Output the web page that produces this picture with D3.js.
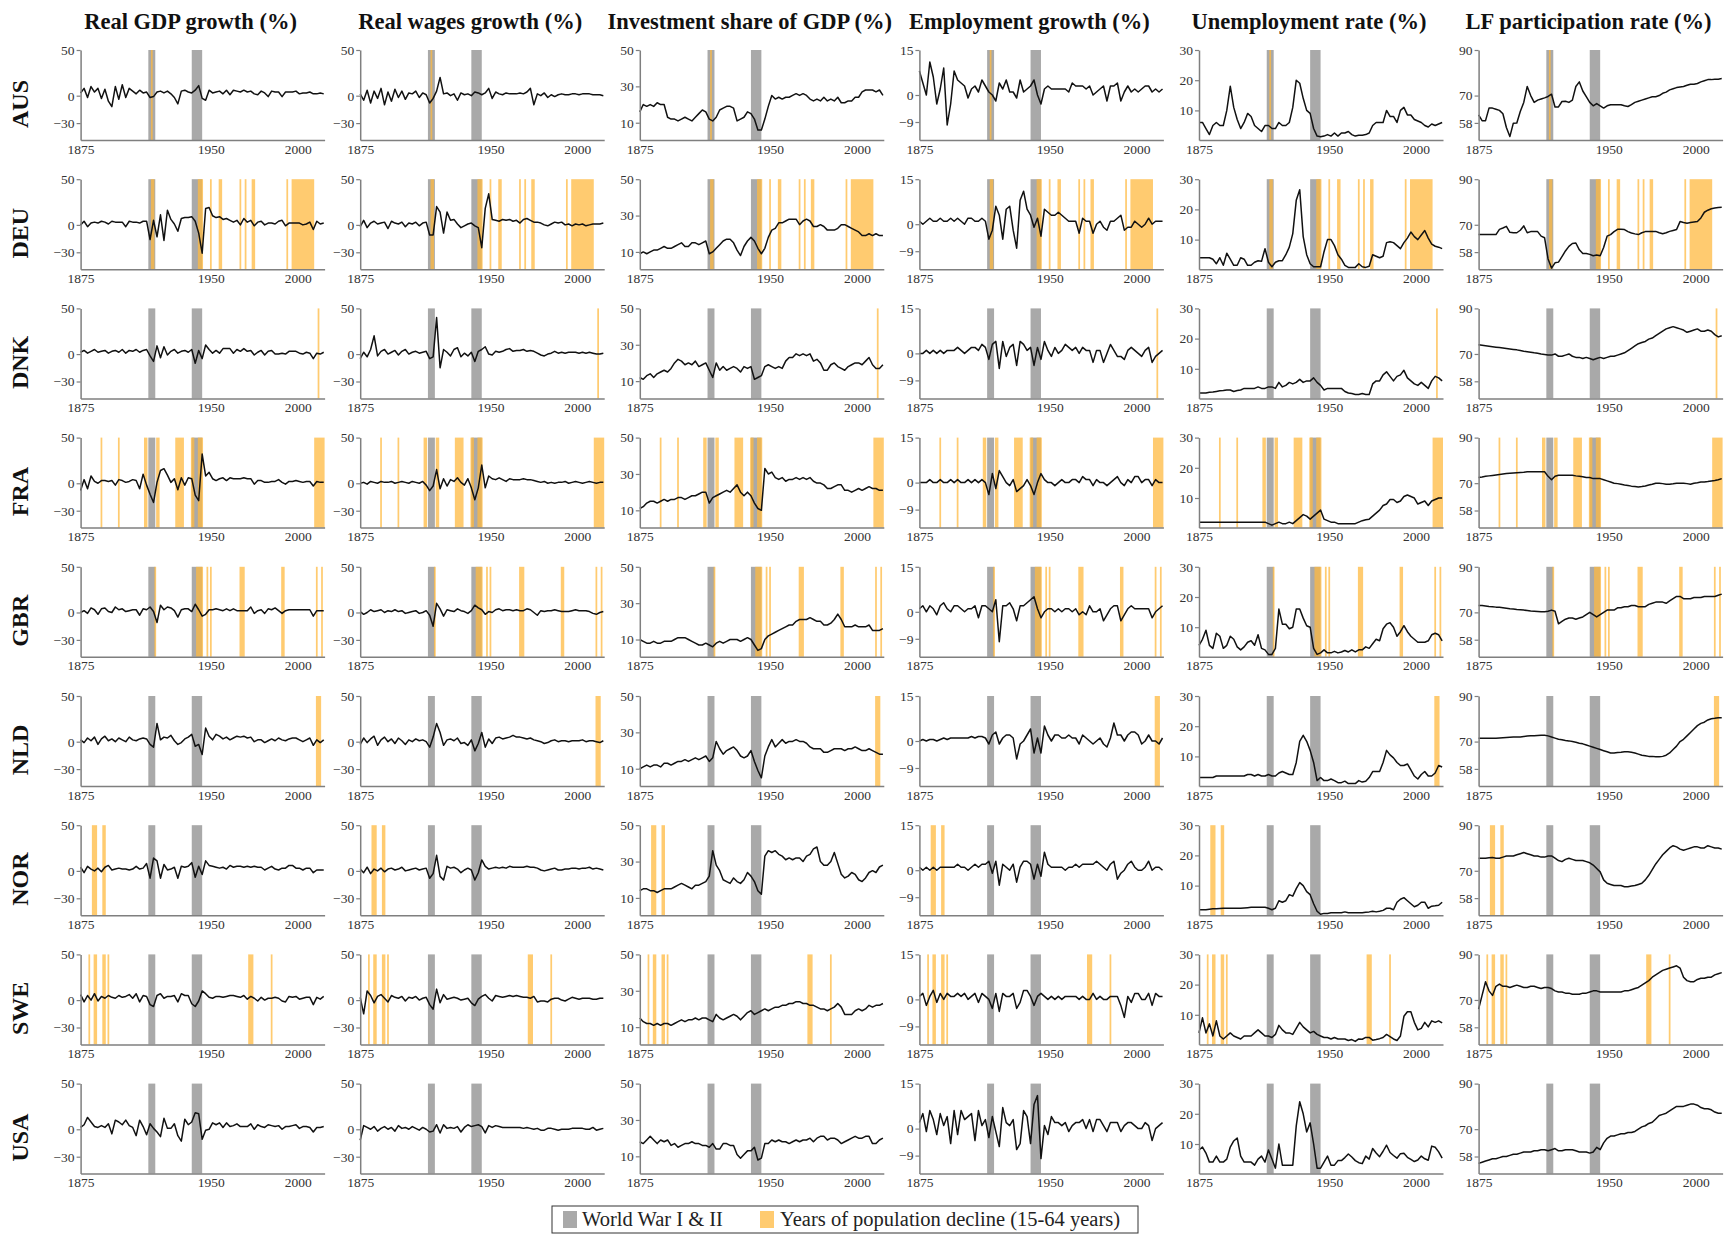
<!DOCTYPE html>
<html><head><meta charset="utf-8">
<script src="https://cdn.jsdelivr.net/npm/d3@7"></script>
<style>
body{margin:0;background:#fff}
svg{display:block}
text{font-family:"Liberation Serif","Times New Roman",serif}
</style>
</head><body>
<svg id="chart" width="1732" height="1234"></svg>
<script>
// ---------------- DATA ----------------
const countries = ["AUS","DEU","DNK","FRA","GBR","NLD","NOR","SWE","USA"];
const variables = ["Real GDP growth (%)","Real wages growth (%)","Investment share of GDP (%)","Employment growth (%)","Unemployment rate (%)","LF participation rate (%)"];
const yearStart = 1875, yearStep = 2;   // values below are given every 2 years, 1875..2015
const xTickValues = [1875, 1950, 2000];
const yTickValues = [[50,0,-30],[50,0,-30],[50,30,10],[15,0,-9],[30,20,10],[90,70,58]];
const warPeriods = [[1914,1918],[1939,1945]];

// Years of population decline (15-64 years)
const decline_AUS = [1916];
const decline_DEU = [1916,1917,1943,1944,1945,1950,1955,1956,1967,1970,1974,1975,1994,1997,1998,1999,2000,2001,2002,2003,2004,2005,2006,2007,2008,2009];
const decline_DNK = [2012];
const decline_FRA = [1887,1897,1912,1913,1919,1920,1930,1931,1932,1933,1934,1939,1940,1943,1944,1945,2010,2011,2012,2013,2014,2015];
const decline_GBR = [1918,1942,1943,1944,1945,1948,1950,1967,1968,1969,1991,1992,2011,2014];
const decline_NLD = [2011,2012,2013];
const decline_NOR = [1882,1883,1884,1888,1889];
const decline_SWE = [1880,1883,1884,1888,1889,1891,1972,1973,1974,1985];
const decline_USA = [];

// AUS
const gdp_AUS = [3,8,-2,10,4,8,-3,7,-6,-12, 10,-4,12,-2,8,5,2,6,3,4, -2,-1,4,5,3,5,2,-2,-9,5, 6,4,3,6,11,-3,-5,6,3,4, 5,2,6,1,6,5,4,6,4,5, 2,1,5,3,-1,5,4,4,-1,4, 4,4,5,2,3,3,4,2,2,3,2];
const wage_AUS = [2,-5,6,-8,5,-3,8,-10,4,-6, 7,-2,5,-4,3,2,5,-2,3,1, -8,-3,5,20,2,3,0,2,-5,3, 1,2,0,4,3,1,3,8,-3,4, 2,1,3,2,2,2,3,2,4,8, -10,2,0,3,-2,1,-1,1,2,1, 1,2,2,1,2,2,2,1,1,1,0];
const inv_AUS = [16,20,19,20,19,21,20,20,13,12, 12,11,12,13,12,11,13,15,17,16, 12,11,13,17,18,19,19,18,11,12, 13,16,15,12,6,6,12,19,25,23, 24,23,24,24,25,26,25,26,25,23, 22,23,22,24,22,23,22,24,21,21, 22,22,24,24,27,28,28,28,27,28,25];
const emp_AUS = [8,4,0,11,6,-3,2,9,-10,-3, 8,5,4,3,-1,2,3,1,5,3, 1,0,-2,4,2,5,1,1,-1,5, 1,2,3,5,0,-3,2,3,2,2, 2,2,2,1,4,3,3,3,2,3, 0,1,2,3,-2,3,3,4,-2,1, 3,1,2,1,2,3,3,1,2,1,2];
const unemp_AUS = [6,6,4,2,5,6,5,5,10,18, 11,7,4,6,9,8,5,4,3,5, 5,4,4,6,5,5,6,11,20,19, 14,10,9,4,1.5,1.3,1.5,2,1.5,2.5, 1.5,2.5,2.5,3,2,1.5,1.8,1.8,2,2.5, 5,6,6,6,10,8,8,6,10,11, 8.5,8.5,7,6.5,6,5,4.5,5.5,5,5.5,6];
const lfp_AUS = [61.5,59,59,64.5,64.5,64,63.5,62,56,52, 57.9,58,63,67,74,70,67,68,68.5,69, 69.6,70.6,65,65,67.4,67.5,67,68,74,76, 72,69.5,67,65.5,66.5,65.5,64.5,65.5,66,66, 66,66,65.5,65.2,66,67,67.5,68,68.5,69, 69.5,69.5,70,71,71.5,72.5,73,73.5,73.8,74, 74.5,75,75,75.3,76,76.5,77,77,77.2,77.2,77.5];

// DEU
const gdp_DEU = [0,4,-2,2,3,2,4,3,1,4, 3,3,3,-2,4,3,3,2,4,4, -16,5,-13,11,-17,16,6,1,-7,7, 8,8,9,4,-9,-31,18,19,10,8, 9,6,7,5,3,5,0,7,3,5, -1,3,4,0,2,2,1,4,5,-1, 2,2,2,2,0,1,3,-5,4,1,2];
const wage_DEU = [-2,5,-3,2,4,1,2,3,-4,4, 2,1,3,-2,2,1,3,-1,2,3, -11,-11,20,14,-9,14,5,6,1,-3, -1,1,2,-1,-3,-25,18,34,6,5, 4,6,5,6,4,5,2,6,7,5, 3,3,2,0,-1,1,3,2,3,0, 1,-1,1,0,1,-1,0,1,1,1,2];
const inv_DEU = [9,10,9,10,11,11,12,13,12,12, 13,14,15,13,13,15,15,14,15,16, 9,10,12,14,16,17,17,15,11,8, 13,16,18,16,12,9,12,18,22,23, 26,26,27,28,28,28,25,27,28,27, 24,24,25,24,22,22,22,23,25,25, 24,23,22,21,19,19,20,19,20,19,19];
const emp_DEU = [1,0,1,2,1,1,2,1,1,2, 1,2,1,0,2,2,1,1,2,1, -5,-2,6,3,-5,5,6,-2,-8,8, 11,5,3,-1,2,-4,5,4,3,3, 4,3,2,1,1,1,-3,2,1,1, -3,0,1,-1,-2,1,1,2,3,-2, -1,-1,1,0,-1,0,2,0,1,1,1];
const unemp_DEU = [4,4,4,4,3.5,2,4,1.5,5.5,3.5, 1.5,1.5,4,3.5,1.5,1.5,2.5,3,2.8,7, 2.5,1,2.5,3,3,5,7.5,12,23,26.5, 11,5,2,1,1,1,6,10,10,8, 5,3.5,1.5,0.8,0.8,0.8,2,1,0.8,1.2, 5,4.5,4,4.5,9,9.3,9,8,7,9, 10.5,12.5,11,10,11.5,13,10.5,8.5,7.8,7.5,7];
const lfp_DEU = [65.7,65.7,65.7,65.7,65.7,65.7,68,68.6,69.3,66.7, 66.5,66.5,67.6,69.5,66.5,67,67,67,65,64.3, 55,51,53.3,53.6,56,58.5,60.5,61.8,62,59, 57.4,57.4,57,56.4,56.7,56.4,60,65,65.7,67, 68,68,67.9,67,66.4,66,65.7,66.5,67,67, 67.1,67.1,66.5,66.1,66.5,67.1,67.5,67.9,71.4,71, 70.7,71,71.2,71.4,73,75.5,76.4,77,77.4,77.6,77.7];

// DNK
const gdp_DNK = [2,4,1,3,5,2,3,4,1,3, 4,2,5,1,4,3,5,2,4,5, -2,-8,9,-4,8,-1,3,5,1,3, 4,2,5,-10,4,-5,10,5,1,4, 1,6,6,6,1,5,3,6,3,4, -1,2,4,-1,3,4,0,0,1,0, 3,3,3,1,0,2,1,-5,1,0,2];
const wage_DNK = [-5,2,-3,5,20,-2,3,5,0,2, 4,-1,3,5,0,2,3,1,2,3, -5,-3,40,-15,5,2,-2,5,7,-3, 1,-2,2,-8,3,5,8,0,-1,3, 2,3,5,6,3,4,4,5,3,4, 3,1,-1,-2,0,1,3,1,2,1, 2,2,2,1,2,1,2,1,0,0,1];
const inv_DNK = [12,11,13,14,12,14,15,16,15,17, 20,22,21,19,20,19,21,18,19,20, 16,12,20,16,18,16,17,18,17,15, 18,17,18,11,12,13,18,19,18,17, 18,17,21,23,23,25,24,25,24,25, 21,22,20,16,16,19,20,18,17,16, 18,19,20,20,19,21,23,19,17,17,19];
const emp_DNK = [0,0,1,0,1,0,1,0,1,1, 1,2,1,0,1,2,2,1,3,2, -2,3,4,-5,4,-1,2,3,-4,4, 3,1,2,-4,2,-2,4,1,-1,2, 0,1,3,2,1,2,0,2,1,1, -3,1,1,-3,0,3,1,-1,-1,-2, 1,2,1,0,-1,1,2,-3,-1,0,1];
const unemp_DNK = [2,2,2,2.2,2.3,2.5,2.7,2.8,3,3, 2.5,2.8,3,3.5,3.5,3.5,3.5,4,3.5,3.5, 4,4,3.5,5.5,4,4.5,5.5,5,5.5,6.5, 5.5,6,6,7,5.5,4.5,3,3.5,3.5,3.5, 3.5,3.5,2.5,2,1.8,1.5,1.5,1.8,1.5,1.5, 5,6,6,8,9,7.5,6,7.5,8,9.5, 7,6,5,4.5,5.5,4.5,3.5,6,7.5,7,6];
const lfp_DNK = [74,73.8,73.6,73.4,73.2,73,72.8,72.6,72.4,72.2, 72,71.8,71.5,71.2,71,70.8,70.5,70.3,70,69.8, 69.5,69.5,70,69,69,69.5,70,69,68.5,68.5, 68,68.5,68,67.5,68,68.5,68,68.5,69,69, 69.5,70,70.5,71.5,72.5,73.5,74.5,75,75.5,76.5, 77,78,79,80,81,81.5,82,81.5,81,80.5, 79.5,80,80.5,81,80,80,80.5,80,78.5,77.5,78];

// FRA
const gdp_FRA = [-8,4,-6,8,2,0,3,3,2,3, -2,4,3,1,2,4,3,-6,10,-2, -12,-21,1,14,16,9,1,5,-7,6, -2,6,5,-13,-19,32,8,12,5,3, 5,6,3,6,5,5,5,6,5,5, -1,3,3,1,1,2,2,4,1,-1, 2,2,3,2,1,2,2,-3,2,1,1];
const wage_FRA = [0,1,-1,2,1,0,2,1,1,2, 0,1,2,1,0,2,1,0,2,-2, -8,-3,15,-6,5,-3,4,2,6,1, -2,5,-5,-18,-5,20,-5,8,5,4, 6,4,2,5,4,4,4,5,4,4, 3,2,1,2,0,1,0,1,1,2, 0,1,2,1,0,1,2,1,0,1,1];
const inv_FRA = [11,12,14,15,15,14,15,16,15,16, 16,17,17,16,17,18,18,19,20,20, 14,17,18,19,20,21,20,22,24,20, 18,20,18,14,11,10,33,30,31,28, 27,28,26,27,27,28,27,28,27,28, 26,25,25,24,22,22,23,24,24,21, 21,20,21,22,21,22,23,22,22,21,21];
const emp_FRA = [0,0,0,1,0,0,1,0,0,1, 0,1,0,0,1,0,1,0,1,0, -4,3,-2,4,2,0,-1,1,-3,-2, -1,1,-1,-4,0,3,1,0,0,-1, 0,1,0,0,1,1,0,2,1,1, -1,1,0,0,-1,0,1,2,0,-1, 1,0,2,2,0,1,1,-1,1,0,0];
const unemp_FRA = [2,2,2,2,2,2,2,2,2,2, 2,2,2,2,2,2,2,2,2,2, 1.5,1,1.5,2,1.5,1.5,2,1.5,2.5,3.5, 4.5,4,3,4,5,6,3,2.5,2,2, 1.5,1.5,1.5,1.5,1.5,1.5,2,2.5,2.8,3, 4,5,6,7.5,8,9.5,9.5,8.5,9,10.5, 11,10.5,10,8,8.5,9,7.5,9,9.5,10,10];
const lfp_FRA = [72.5,72.7,73,73.2,73.4,73.6,73.8,74,74.2,74.4, 74.5,74.6,74.7,74.8,75,75,75,75,75,75, 73,71.5,73,73.5,73.5,73.5,73.5,73.5,73.2,73, 72.8,72.5,72.5,72,72,72,71.5,71,70.5,70, 69.8,69.5,69.2,69,68.7,68.5,68.3,68.5,68.8,69.2, 69.5,70,70,69.8,69.5,69.5,69.7,70,70,70, 69.8,69.5,70,70.2,70.5,70.5,70.7,71,71.2,71.5,72];

// GBR
const gdp_GBR = [0,2,-1,5,3,-2,4,5,1,0, 6,3,4,1,2,3,3,-3,4,3, 6,1,-11,8,3,6,5,2,-5,3, 4,4,1,9,3,-4,-2,3,3,4, 3,2,4,2,4,2,2,2,2,6, -1,2,3,-1,4,3,5,2,-1,2, 3,3,3,3,3,3,3,-4,2,2,2];
const wage_GBR = [1,-2,0,3,1,2,3,0,2,1, 3,1,2,-1,0,1,2,-1,0,2, -3,-15,10,4,-4,3,2,1,4,2, 1,-1,2,8,5,3,-2,1,0,3, 4,2,3,3,2,3,2,2,4,3, 0,-3,2,1,2,2,3,2,1,1, 1,2,3,2,2,2,1,-1,-2,0,1];
const inv_GBR = [10,9,8,8,9,8,8,9,9,9, 10,11,11,11,10,9,8,7,7,8, 7,6,8,9,8,9,10,10,10,9, 10,11,10,7,4,5,10,12,13,14, 15,16,17,18,18,20,21,21,21,22, 21,20,20,18,18,19,21,24,21,17, 17,17,18,17,17,17,18,15,15,15,16];
const emp_GBR = [1,2,0,2,1,-1,2,3,1,0, 2,2,1,0,1,1,2,-2,2,2, 1,0,4,-10,2,2,3,1,-3,2, 2,3,4,5,1,-2,0,1,1,0, 1,0,1,1,0,1,-1,0,-1,2, 0,0,1,-3,-1,1,2,2,-3,-1, 1,2,1,1,1,1,1,-2,0,1,2];
const unemp_GBR = [4,6,9,4,3,8,7,3,4,7, 6,3.5,2.5,3.5,5,5.5,4,7.5,3,2.5, 1,1,3,16,11,11,9.5,10,16,16, 13,10.5,10,3,1,1.5,2.5,1.5,1.5,2, 1.5,1.8,2.3,1.8,2.5,1.8,2.5,2.5,3.5,3, 4.5,6,5.5,9.5,11,11.5,10,7,8.5,10.5, 8.5,7,6,5,5,5,5.5,7.5,8,7.5,5.5];
const lfp_GBR = [73,73,72.8,72.6,72.5,72.3,72.2,72,71.8,71.6, 71.5,71.3,71.2,71,70.8,70.6,70.5,70.4,70.3,70.3, 70.5,71,70.5,65,66,67,67.5,67.5,67,67.5, 68,69,70,69,68,69,70,71,71,71, 72,72,72.5,72.5,73,73,72.5,72.5,72.5,73.5, 74,74.5,74.5,74.5,74,75,76,77,77,76, 76,76,76.5,76.5,76.5,77,77,77,77,77.5,78];

// NLD
const gdp_NLD = [2,-1,4,1,5,-3,3,6,1,3, 0,4,2,0,5,2,1,3,4,3, -3,-6,20,2,5,4,7,1,-3,-1, 3,5,8,-5,-3,-14,15,6,2,8, 6,3,5,2,4,6,5,6,4,5, 0,2,2,-1,1,3,1,4,2,1, 3,4,4,2,0,2,4,-4,2,-1,2];
const wage_NLD = [-3,4,-1,3,6,-4,2,5,0,3, -2,4,1,-3,2,0,3,1,2,0, -6,5,20,10,-4,2,3,1,4,-2, -1,-4,2,-10,-2,10,-6,3,-2,4, 5,3,4,5,7,5,5,4,3,4, 2,1,0,-2,-1,1,2,0,1,1, 0,1,1,1,2,0,1,1,0,-1,1];
const inv_NLD = [10,11,12,11,12,12,11,13,13,12, 13,14,14,15,14,15,16,15,16,17, 14,16,25,21,18,20,21,22,20,17, 16,17,20,14,9,5,17,22,26,22, 24,26,24,25,25,26,25,25,24,22, 21,21,21,19,19,20,21,21,21,20, 21,21,22,21,20,20,21,20,19,18,18];
const emp_NLD = [0,0.5,0,0.5,0.5,0,0.5,1,0.5,1, 1,1,1,1,1,1.5,1,1.5,1.5,1, -1,2,3,-1,1,2,2,1,-6,-1, 0,2,4,-4,1,-4,5,2,0,2, 2,1,1,2,1,1,-1,2,1,0, -1,0,1,-1,-2,1,6,2,2,0, 2,3,3,2,-1,0,2,0,0,-1,1];
const unemp_NLD = [3,3,3,3,3,3.5,3.5,3.5,3.5,3.5, 3.5,3.5,3.5,3.5,4,4,3.5,4,3.5,3.5, 4,3.5,3.5,4.5,5,4.5,4,4,8,15, 17,15,12,8,2,3,2,2,2.5,2, 1.3,1.3,1.8,1,1,1,2,1.5,1.8,3, 5,5,5,8,12,10.5,9.5,8,7,7, 7.5,5.5,3.5,2.5,4,5,3.5,3.5,4.5,7,6.5];
const lfp_NLD = [71.5,71.5,71.5,71.5,71.5,71.5,71.6,71.7,71.8,71.9, 72,72,72,72.2,72.4,72.5,72.6,72.7,72.8,72.8, 72.5,72,71.5,71,70.8,70.5,70.3,70,69.7,69.3, 69,68.5,68,67.5,67,66.5,66,65.5,65,65, 65.2,65.3,65.5,65.5,65.3,65,64.5,64,63.8,63.5, 63.5,63.3,63.3,63.5,64,65,66.5,68,70,71, 72.5,74,75.5,77,78,78.5,79.5,80,80.2,80.5,80.5];

// NOR
const gdp_NOR = [4,-2,5,2,0,3,-1,4,6,1, 2,3,2,2,1,2,5,2,3,8, -8,14,11,-8,7,1,2,4,-8,5, 4,5,9,-7,5,-4,11,6,5,4, 3,4,2,6,4,5,5,4,5,4, 5,4,4,1,3,5,2,1,3,3, 6,6,3,3,1,3,3,-2,1,1,1];
const wage_NOR = [2,-2,4,-3,2,0,3,-1,2,3, 1,2,4,0,1,2,3,1,2,3, -8,-3,17,-6,-10,5,3,4,2,-2, 1,3,1,-10,-2,12,5,2,3,4, 3,4,3,5,4,4,4,4,5,4, 4,3,1,0,1,2,3,1,1,2, 2,3,3,2,3,3,4,2,3,2,1];
const inv_NOR = [14,15,15,14,14,13,14,15,15,15, 16,17,18,17,16,15,17,17,18,19, 22,36,28,25,20,19,18,21,19,18, 20,24,22,19,14,12,33,36,35,36, 34,33,31,32,31,32,32,30,33,34, 37,38,30,28,28,30,35,29,23,21, 22,24,23,20,19,21,24,25,24,27,28];
const emp_NOR = [1,0,1,0,1,0,1,1,1,1, 1,2,1,1,0,1,2,1,2,2, 3,-1,3,-5,2,1,0,2,-4,1, 3,3,2,-3,2,-2,6,2,1,1, 1,1,0,1,1,2,1,2,2,2, 2,3,2,1,0,2,3,-3,-1,0, 2,3,1,0,0,1,3,0,1,1,0];
const unemp_NOR = [2,2,2,2.2,2.3,2.3,2.4,2.5,2.5,2.5, 2.5,2.5,2.5,2.6,2.7,2.8,2.8,2.8,2.8,2.8, 2.5,2,2.5,5,4.5,5,7,6.5,9,11, 10,8,7,4,1.5,0.5,0.8,0.8,1,1, 1,1,1.3,1,1,1,1,1,1.2,1.3, 1.5,1.3,1.5,1.8,2.5,2.5,2,4.5,5.5,6, 5,4,3,3.5,4.5,4.5,2.5,3.2,3.3,3.5,4.5];
const lfp_NOR = [75.5,75.5,75.5,75.7,75.8,75.5,75.5,76,76.5,76.5, 76.5,77,77.5,78,77.5,77,76.5,76.5,76,76, 76.5,76.5,75.5,74.5,74,75,75.5,75,74.5,74.5, 74.5,74,73.5,72.5,71,69.5,66,64.5,64,63.5, 63.5,63.5,63,63,63.3,63.5,64,64.5,66,68, 70.5,73,75,77,78.5,80,81,80.5,79.5,79, 79.5,80,80.5,80.5,80,80,81,80.5,80,80,79.5];

// SWE
const gdp_SWE = [6,-2,5,0,7,-1,4,2,5,3, 2,5,3,4,6,2,7,-2,5,4, -5,-7,5,7,2,4,4,5,-2,7, 5,5,-4,-7,-1,10,7,3,2,4, 4,3,4,5,5,4,3,5,1,4, 2,-1,3,0,2,2,3,2,-1,-2, 4,3,4,1,2,3,3,-5,3,1,4];
const wage_SWE = [3,-15,10,5,-3,4,6,2,-2,5, 3,2,4,-1,3,2,4,0,2,3, -5,-10,12,-3,6,1,2,3,2,0, 1,2,-3,-6,1,4,6,2,-1,5, 4,3,4,5,4,5,4,3,3,2, 4,-2,-1,-1,-2,1,2,2,0,-1, 1,3,2,1,2,2,2,1,1,2,2];
const inv_SWE = [15,13,12,12,11,12,11,12,12,11, 12,13,14,13,14,14,15,14,15,15, 14,13,17,15,14,15,16,17,16,14, 16,18,19,17,18,19,20,19,20,21, 21,22,22,23,23,24,24,23,23,22, 22,21,20,20,19,20,21,23,21,17, 17,17,19,20,19,20,22,21,22,22,23];
const emp_SWE = [1,2,-2,1,3,-1,2,0,2,1, 1,2,1,2,0,1,2,-1,2,1, 0,-3,2,-4,2,1,1,2,-3,-1, 3,3,1,-2,1,2,1,0,1,0, 1,0,1,1,1,1,0,1,0,0, 2,0,1,0,0,1,1,1,-2,-6, 1,-1,2,2,0,0,2,-2,2,1,1];
const unemp_SWE = [4,9,4,7,3,8,3,2,3,4, 3,2.5,2,3,3,3,4,5,4,3, 3,2.5,3.5,6.5,5,4,4,3.5,5.5,7.5, 6,5,4,4.5,3.5,3,2.5,2.5,2,2.5, 2,2,2,1.5,1.8,1.2,2,1.9,2.5,2.5, 1.6,1.8,2.1,2.5,3.5,2.8,2,1.5,3,9.5, 11,11,7.5,5,5.5,7.5,6,8,7.5,8,7.3];
const lfp_SWE = [66,72,78,74,72,76,77,76,76,75.5, 76,76.5,76,75.5,75.5,76,76,75.5,75,75.5, 75.5,75,74,73.5,73.5,73,73,72.5,72.5,72.5, 73,73,73.5,74,74,73.5,73.5,73.5,73.5,73.5, 73.5,73.5,74,74,74.5,75,75.5,76.5,77.5,78.5, 80,81,82,83,83.5,84,84.5,85,84,80, 78.5,78,78,79,79.5,79.5,80,80,81,81.5,82];

// USA
const gdp_USA = [2,5,13,8,3,2,4,2,6,-5, 10,8,5,10,4,2,-7,10,3,-6, 6,1,-3,-8,12,1,1,6,-7,-13, 11,5,8,18,17,-11,-1,0,7,5, 7,2,7,3,4,6,3,3,3,6, 0,5,3,2,5,4,3,4,0,3, 3,4,5,1,3,3,2,-3,2,2,3];
const wage_USA = [-12,4,2,0,3,-2,1,3,0,2, -2,4,1,2,0,3,1,-1,2,0, -3,-2,5,-4,5,1,2,1,3,-3, 2,5,3,4,5,3,-4,4,2,4, 3,2,2,2,2,2,2,1,2,1, 0,1,-1,-1,1,1,0,-1,0,0, 0,1,1,1,1,0,0,2,-1,0,1];
const inv_USA = [18,17,19,21,19,17,19,18,19,16, 17,15,16,17,17,18,17,17,16,16, 15,17,14,14,17,17,16,16,11,9, 11,13,13,15,8,9,17,17,19,18, 19,18,18,17,18,19,18,19,19,20, 18,20,21,21,19,20,20,19,17,18, 19,20,21,20,20,21,21,17,17,19,20];
const emp_USA = [2,5,-1,6,3,-2,5,1,4,-5, 6,-2,6,3,4,5,-4,6,1,3, -3,4,-1,-6,7,2,1,3,-7,-5, 6,4,-5,8,11,-10,1,-2,4,2, 2,1,2,-1,1,2,2,3,0,3, -1,3,3,1,-1,2,2,2,-1,1, 2,2,1,0,0,2,1,-4,0,1,2];
const unemp_USA = [8,9,7,4,4,6,4,4,5,9, 11,12,6,4,4,4,3,5,6,4, 8,5,2,10,3,3,3,3,16,24, 20,14,17,10,2,2,4,6,3,3, 4.5,4.5,5.5,6.7,5.7,4.5,3.8,3.5,6,5, 8.5,7,5.8,7.6,9.6,7.2,6.2,5.3,6.8,6.9, 5.6,4.9,4.2,4.7,6,5.1,4.6,9.3,8.9,7.4,5.3];
const lfp_USA = [55,55.5,56,56.5,57,57,57.5,58,58,58.5, 59,59,59.5,60,60,60,60.5,60.5,61,61, 60.5,61,61.5,60.5,60.5,61,61,61,60.5,60, 60,60,59.5,60,62,61,64,66,67,67, 67.5,68,68,68.5,68.5,69,70,71,71.5,72.5, 73,74.5,76,76.5,77,78,79,80,80,80, 80.5,81,81,80.5,79.5,79,79,78.5,77.5,77,77];

// ---------------- LAYOUT ----------------
const series = {
  AUS:[gdp_AUS,wage_AUS,inv_AUS,emp_AUS,unemp_AUS,lfp_AUS],
  DEU:[gdp_DEU,wage_DEU,inv_DEU,emp_DEU,unemp_DEU,lfp_DEU],
  DNK:[gdp_DNK,wage_DNK,inv_DNK,emp_DNK,unemp_DNK,lfp_DNK],
  FRA:[gdp_FRA,wage_FRA,inv_FRA,emp_FRA,unemp_FRA,lfp_FRA],
  GBR:[gdp_GBR,wage_GBR,inv_GBR,emp_GBR,unemp_GBR,lfp_GBR],
  NLD:[gdp_NLD,wage_NLD,inv_NLD,emp_NLD,unemp_NLD,lfp_NLD],
  NOR:[gdp_NOR,wage_NOR,inv_NOR,emp_NOR,unemp_NOR,lfp_NOR],
  SWE:[gdp_SWE,wage_SWE,inv_SWE,emp_SWE,unemp_SWE,lfp_SWE],
  USA:[gdp_USA,wage_USA,inv_USA,emp_USA,unemp_USA,lfp_USA]
};
const declineYears = {AUS:decline_AUS,DEU:decline_DEU,DNK:decline_DNK,FRA:decline_FRA,GBR:decline_GBR,NLD:decline_NLD,NOR:decline_NOR,SWE:decline_SWE,USA:decline_USA};

const yDomains = [[-48.5,50],[-48.5,50],[0.5,50],[-15,15],[0.2,30],[50.5,90]];
const colX0 = 80.6, colStep = 279.6, plotW = 244;
const rowY0 = 50, rowStep = 129.2, plotH = 90;
const warColor = "#a9a9a9", declColor = "#ffb940", declOpacity = 0.75;
const axisColor = "#7f7f7f";

const svg = d3.select("#chart");

function runs(yrs){
  const s=[...yrs].sort((a,b)=>a-b), out=[];
  s.forEach(y=>{ if(out.length && y===out[out.length-1][1]+1) out[out.length-1][1]=y; else out.push([y,y]); });
  return out;
}

// column titles
variables.forEach((v,k)=>{
  const left = colX0 + k*colStep;
  svg.append("text").attr("x", left + plotW/2 - 12).attr("y", 28.5)
    .attr("text-anchor","middle").attr("font-weight","bold").attr("font-size",22.5)
    .attr("fill","#111").text(v);
});

countries.forEach((c,r)=>{
  const top = rowY0 + r*rowStep;
  svg.append("text").attr("transform",`translate(28,${top+54}) rotate(-90)`)
    .attr("text-anchor","middle").attr("font-weight","bold").attr("font-size",24)
    .attr("fill","#111").text(c);

  variables.forEach((v,k)=>{
    const left = colX0 + k*colStep;
    const x = d3.scaleLinear().domain([1875,2015.5]).range([left,left+plotW]);
    const y = d3.scaleLinear().domain(yDomains[k]).range([top+plotH,top]);
    const g = svg.append("g");

    warPeriods.forEach(([a,b])=>{
      g.append("rect").attr("x",x(a)).attr("width",x(b)-x(a))
        .attr("y",top).attr("height",plotH).attr("fill",warColor);
    });
    runs(declineYears[c]).forEach(([a,b])=>{
      g.append("rect").attr("x",x(a-0.5)).attr("width",x(b+0.5)-x(a-0.5))
        .attr("y",top).attr("height",plotH).attr("fill",declColor).attr("fill-opacity",declOpacity);
    });

    const vals = series[c][k];
    const line = d3.line().x((d,i)=>x(yearStart+i*yearStep)).y(d=>y(d));
    g.append("path").datum(vals).attr("d",line).attr("fill","none")
      .attr("stroke","#111").attr("stroke-width",1.5).attr("stroke-linejoin","round");

    const ya = g.append("g").attr("transform",`translate(${left},0)`)
      .call(d3.axisLeft(y).tickValues(yTickValues[k]).tickSize(4).tickSizeOuter(0).tickPadding(2));
    const xa = g.append("g").attr("transform",`translate(0,${top+plotH})`)
      .call(d3.axisBottom(x).tickValues(xTickValues).tickSize(0).tickSizeOuter(0).tickPadding(4).tickFormat(d3.format("d")));
    [ya,xa].forEach(a=>{
      a.select(".domain").attr("stroke",axisColor).attr("stroke-width",1.5);
      a.selectAll(".tick line").attr("stroke",axisColor).attr("stroke-width",1.2);
      a.selectAll(".tick text").attr("fill","#333").attr("font-size",13.5)
        .attr("font-family","Liberation Serif, serif");
    });
  });
});

// legend
const lg = svg.append("g");
lg.append("rect").attr("x",552).attr("y",1206).attr("width",586).attr("height",27)
  .attr("fill","#fff").attr("stroke","#333").attr("stroke-width",1);
lg.append("rect").attr("x",563).attr("y",1211).attr("width",14).attr("height",17).attr("fill",warColor);
lg.append("text").attr("x",582).attr("y",1226).attr("font-size",20.5).attr("fill","#222").text("World War I & II");
lg.append("rect").attr("x",760).attr("y",1211).attr("width",14).attr("height",17).attr("fill",declColor).attr("fill-opacity",declOpacity);
lg.append("text").attr("x",780).attr("y",1226).attr("font-size",20.5).attr("fill","#222").text("Years of population decline (15-64 years)");
</script>
</body></html>
